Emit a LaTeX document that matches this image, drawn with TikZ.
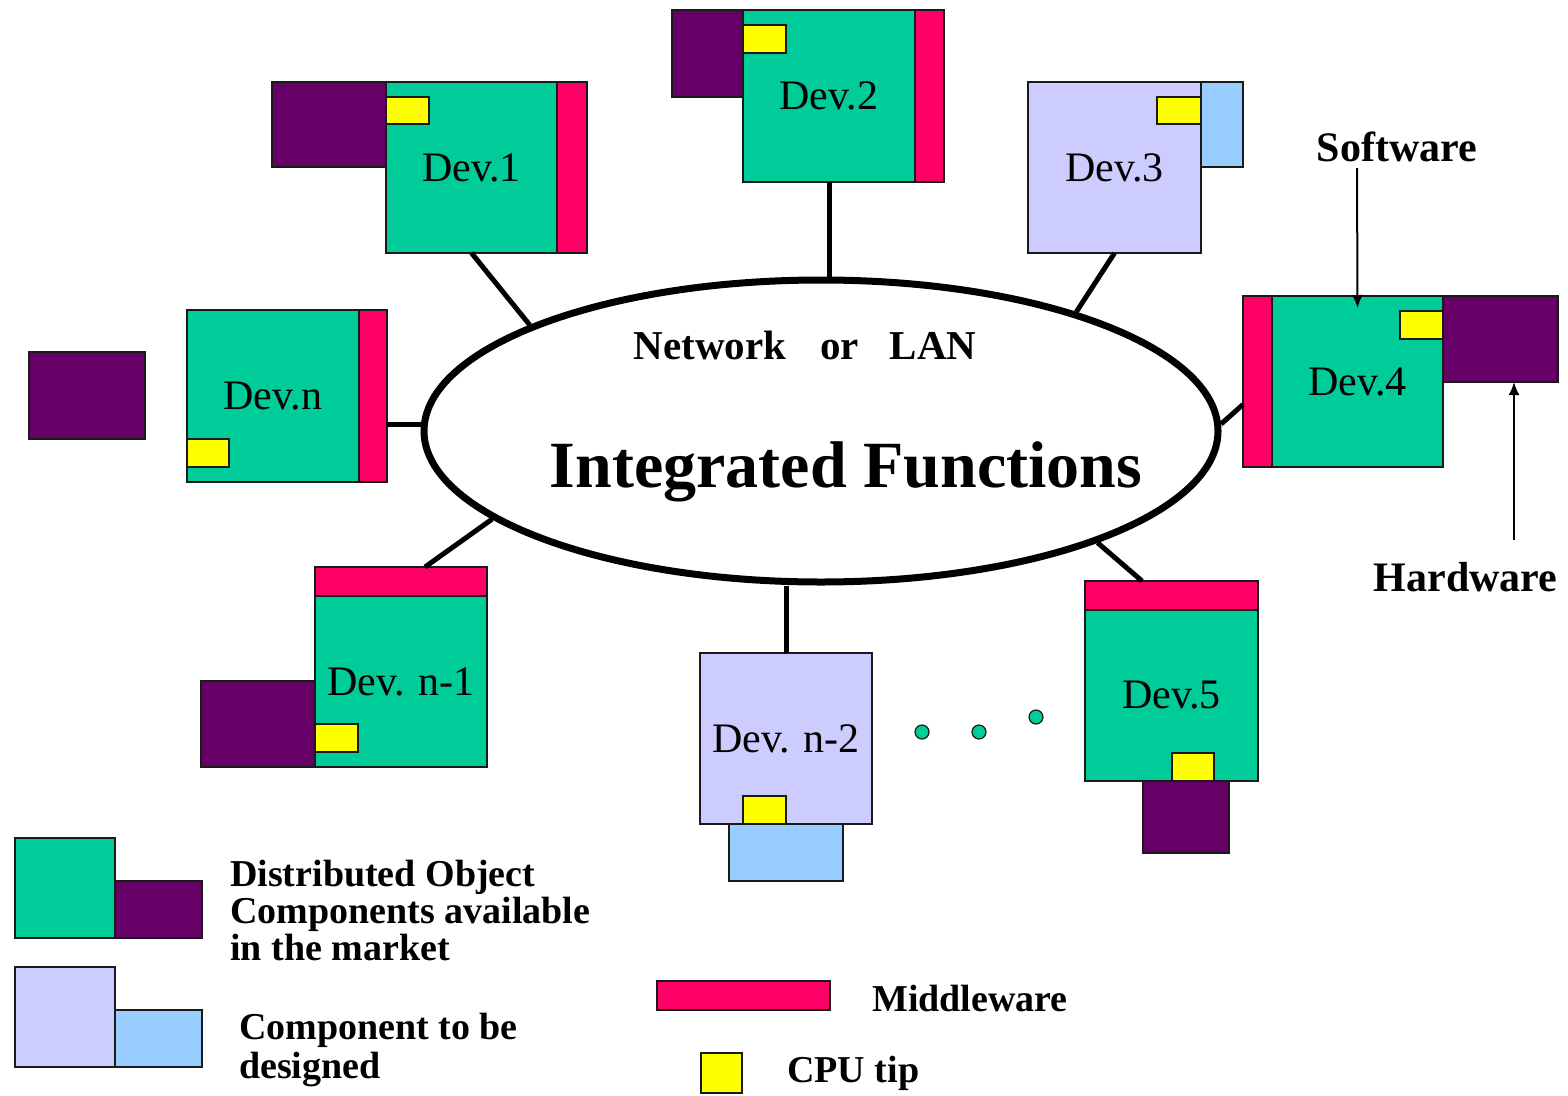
\documentclass[tikz,border=0pt]{standalone}
\usepackage{fontspec}
\setmainfont{Liberation Serif}
\usetikzlibrary{arrows.meta,calc,shapes.geometric}
\definecolor{dgreen}{HTML}{00CC99}
\definecolor{dpurple}{HTML}{660066}
\definecolor{dpink}{HTML}{FF0066}
\definecolor{dyellow}{HTML}{FFFF00}
\definecolor{dlav}{HTML}{CCCCFF}
\definecolor{dblue}{HTML}{99CCFF}
\definecolor{edge}{HTML}{1A1A1A}
\begin{document}
\begin{tikzpicture}[x=1pt,y=-1pt,
  part/.style={draw=edge, line width=1.5pt, inner sep=0pt, outer sep=0pt, rectangle},
  grn/.style={part, fill=dgreen, font=\fontsize{42}{44}\selectfont},
  lav/.style={part, fill=dlav, font=\fontsize{42}{44}\selectfont},
  pur/.style={part, fill=dpurple},
  mid/.style={part, fill=dpink},
  cpu/.style={part, fill=dyellow},
  lbl/.style={part, fill=dblue},
  link/.style={line width=5pt, black},
  ptr/.style={line width=2pt, -{Latex[length=13pt,width=11pt]}},
  bold/.style={font=\bfseries\fontsize{42}{44}\selectfont, inner sep=0pt},
  legend/.style={font=\bfseries\fontsize{38}{37}\selectfont, inner sep=0pt, align=left},
  dot/.style={circle, draw=edge, line width=1.2pt, fill=dgreen, minimum size=14pt, inner sep=0pt}
]
\useasboundingbox (0,0) rectangle (1568,1095);

% ---- Dev.1
\node[pur, minimum width=114pt, minimum height=85pt] (d1hw) at (329,124.5) {};
\node[grn, minimum width=171pt, minimum height=171pt] (dev1) at (471.5,167.5) {Dev.1};
\node[mid, minimum width=30pt, minimum height=171pt] (d1mw) at (572,167.5) {};
\node[cpu, minimum width=43pt, minimum height=27pt] (d1cpu) at (407.5,110.5) {};

% ---- Dev.2
\node[pur, minimum width=71pt, minimum height=87pt] (d2hw) at (707.5,53.5) {};
\node[grn, minimum width=172pt, minimum height=172pt] (dev2) at (829,96) {Dev.2};
\node[mid, minimum width=29pt, minimum height=172pt] (d2mw) at (929.5,96) {};
\node[cpu, minimum width=43pt, minimum height=28pt] (d2cpu) at (764.5,39) {};

% ---- Dev.3
\node[lav, minimum width=173pt, minimum height=171pt] (dev3) at (1114.5,167.5) {Dev.3};
\node[lbl, minimum width=42pt, minimum height=85pt] (d3hw) at (1222,124.5) {};
\node[cpu, minimum width=44pt, minimum height=27pt] (d3cpu) at (1179,110.5) {};

% ---- Dev.4
\node[mid, minimum width=29pt, minimum height=171pt] (d4mw) at (1257.5,381.5) {};
\node[grn, minimum width=171pt, minimum height=171pt] (dev4) at (1357.5,381.5) {Dev.4};
\node[pur, minimum width=115pt, minimum height=86pt] (d4hw) at (1500.5,339) {};
\node[cpu, minimum width=43pt, minimum height=28pt] (d4cpu) at (1421.5,325) {};

% ---- Dev.n
\node[pur, minimum width=116pt, minimum height=87pt] (dnhw) at (87,395.5) {};
\node[grn, minimum width=172pt, minimum height=172pt] (devn) at (273,396) {Dev.n};
\node[mid, minimum width=28pt, minimum height=172pt] (dnmw) at (373,396) {};
\node[cpu, minimum width=42pt, minimum height=28pt] (dncpu) at (208,453) {};

% ---- Dev.n-1
\node[pur, minimum width=114pt, minimum height=86pt] (dn1hw) at (258,724) {};
\node[grn, minimum width=172pt, minimum height=171pt] (devn1) at (401,681.5) {Dev. n-1};
\node[mid, minimum width=172pt, minimum height=29pt] (dn1mw) at (401,581.5) {};
\node[cpu, minimum width=43pt, minimum height=28pt] (dn1cpu) at (336.5,738) {};

% ---- Dev.n-2
\node[lav, minimum width=172pt, minimum height=171pt] (devn2) at (786,738.5) {Dev. n-2};
\node[lbl, minimum width=114pt, minimum height=57pt] (dn2hw) at (786,852.5) {};
\node[cpu, minimum width=43pt, minimum height=28pt] (dn2cpu) at (764.5,810) {};

% ---- Dev.5
\node[mid, minimum width=173pt, minimum height=29pt] (d5mw) at (1171.5,595.5) {};
\node[grn, minimum width=173pt, minimum height=171pt] (dev5) at (1171.5,695.5) {Dev.5};
\node[pur, minimum width=86pt, minimum height=72pt] (d5hw) at (1186,817) {};
\node[cpu, minimum width=42pt, minimum height=28pt] (d5cpu) at (1193,767) {};

% ---- dots
\node[dot] (dot1) at (922,732) {};
\node[dot] (dot2) at (979,732) {};
\node[dot] (dot3) at (1036,717) {};

% ---- network ellipse
\node[draw, ellipse, line width=7pt, minimum width=794pt, minimum height=302pt, inner sep=0pt] (net) at (821,431) {};
\node[bold, font=\bfseries\fontsize{41}{43}\selectfont, anchor=base] (lan) at (805,359) {Network\hspace{34pt}or\hspace{31pt}LAN};
\node[bold, font=\bfseries\fontsize{66}{68}\selectfont, anchor=base] (intf) at (846,487) {Integrated Functions};

% ---- connectors
\draw[link] (dev1.south) -- (net.160.3);
\draw[link] (dev2.south) -- (dev2.south |- net.north);
\draw[link] (dev3.south) -- (net.25.7);
\draw[link] (net.1) -- ([yshift=-23pt]d4mw.west);
\draw[link] (net.179) -- (net.179 -| dnmw.east);
\draw[link] ([xshift=24pt]dn1mw.north) -- (net.195.1);
\draw[link] (devn2.north) -- (devn2.north |- net.south);
\draw[link] ([xshift=-29.5pt]d5mw.north) -- (net.338.9);

% ---- software / hardware pointers
\node[bold, anchor=base] (sw) at (1397,161) {Software};
\node[bold, anchor=base] (hw) at (1465.5,591) {Hardware};
\coordinate (swtail) at (1357,168);
\coordinate (hwtail) at (1514,540);
\draw[ptr] (swtail) -- ([yshift=-12pt]dev4.north);
\draw[ptr] (hwtail) -- ([xshift=13.5pt]d4hw.south);

% ---- legend
\node[part, fill=dgreen, minimum width=100pt, minimum height=100pt] (lg1a) at (65,888) {};
\node[pur, minimum width=87pt, minimum height=57pt] (lg1b) at (158.5,909.5) {};
\node[part, fill=dlav, minimum width=100pt, minimum height=100pt] (lg2a) at (65,1017) {};
\node[lbl, minimum width=87pt, minimum height=57pt] (lg2b) at (158.5,1038.5) {};
\node[legend, anchor=west] (lt1) at (230,910) {Distributed Object\\Components available\\in the market};
\node[legend, font=\bfseries\fontsize{38}{39}\selectfont, anchor=west] (lt2) at (239,1050) {Component to be\\designed};
\node[mid, minimum width=173pt, minimum height=29pt] (lg3) at (743.5,995.5) {};
\node[legend, anchor=west] (lt3) at (872,998) {Middleware};
\node[cpu, minimum width=41pt, minimum height=40pt] (lg4) at (721.5,1073) {};
\node[legend, anchor=west] (lt4) at (787,1073) {CPU tip};
\end{tikzpicture}
\end{document}
